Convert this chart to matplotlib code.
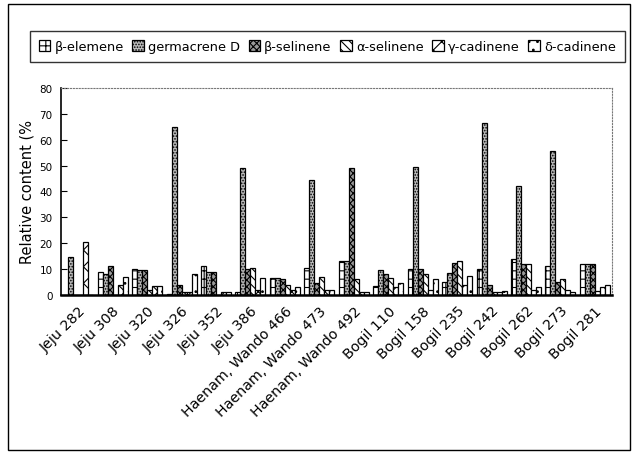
import numpy as np
import matplotlib
matplotlib.use("Agg")
import matplotlib.pyplot as plt
from matplotlib.patches import Rectangle

plt.rcParams['font.family'] = ['DejaVu Sans']
plt.rcParams['hatch.linewidth'] = 0.8

categories = ["Jeju 282", "Jeju 308", "Jeju 320", "Jeju 326", "Jeju 352", "Jeju 386",
              "Haenam, Wando 466", "Haenam, Wando 473", "Haenam, Wando 492",
              "Bogil 110", "Bogil 158", "Bogil 235", "Bogil 242", "Bogil 262",
              "Bogil 273", "Bogil 281"]
series_names = ["β-elemene", "germacrene D", "β-selinene", "α-selinene", "γ-cadinene", "δ-cadinene"]

beta_elemene = [0, 9, 10, 0.5, 11, 1, 6.5, 10.5, 13, 3.5, 10, 5, 10, 14, 11, 12]
germacrene_d = [14.5, 8, 9.5, 65, 9, 49, 6.5, 44.5, 13, 9.5, 49.5, 8.5, 66.5, 42, 55.5, 12]
beta_selinene = [0, 11, 9.7, 4, 9, 10, 6, 4.5, 49, 8, 10, 12.5, 4, 12, 5, 12]
alpha_selinene = [0, 0, 2, 1, 0, 10.5, 4, 7, 6, 6.5, 8, 13, 1, 12, 6, 1.5]
gamma_cadinene = [20.5, 4, 3.5, 1, 1, 2, 2, 2, 1, 3, 2, 4, 1, 2, 2, 3]
delta_cadinene = [0, 7, 3.5, 8, 1, 6.5, 3, 2, 1, 4.5, 6, 7.5, 1.5, 3, 1, 4]

values = [beta_elemene, germacrene_d, beta_selinene, alpha_selinene, gamma_cadinene, delta_cadinene]
hatches = ['++', '......', 'xxxxx', '\\\\\\\\', 'xx', '..']
facecolors = ['white', '#bdbdbd', '#9a9a9a', 'white', 'white', 'white']

fig = plt.figure(figsize=(6.33, 4.56), dpi=100)
ax = fig.add_axes([0.0964, 0.351, 0.8706, 0.454])

n = len(categories)
x = np.arange(n)
bw = 0.145
for i, (vals, h, fc, name) in enumerate(zip(values, hatches, facecolors, series_names)):
    ax.bar(x - 2.5 * bw + i * bw, vals, width=bw, facecolor=fc, edgecolor='black',
           hatch=h, linewidth=0.9, label=name)

ax.set_xlim(-0.5, n - 0.5)
ax.set_ylim(0, 80)
ax.set_yticks(np.arange(0, 81, 10))
ax.tick_params(axis='y', direction='in', length=4, labelsize=7.5, pad=6)
ax.set_xticks(x)
ax.set_xticklabels(categories, rotation=45, ha='right', rotation_mode='anchor', fontsize=10.3)
ax.tick_params(axis='x', length=0, pad=6)
ax.set_ylabel("Relative content (%", fontsize=10.5, labelpad=4)
ax.spines['left'].set_linewidth(1.2)
ax.spines['bottom'].set_linewidth(1.8)
for s in ['top', 'right']:
    ax.spines[s].set_linestyle(':')
    ax.spines[s].set_color('#777777')

leg = fig.legend(loc='lower left', bbox_to_anchor=(0.047, 0.862, 0.94, 0.077), mode='expand',
                 ncol=6, fontsize=9.3, frameon=True, fancybox=False, edgecolor='black',
                 handlelength=0.9, handleheight=0.9, handletextpad=0.3, columnspacing=0.5,
                 borderaxespad=0, borderpad=0.7)
leg.get_frame().set_linewidth(1.0)

fig.patches.append(Rectangle((0.013, 0.01), 0.982, 0.978, transform=fig.transFigure,
                             fill=False, edgecolor='black', linewidth=1.0))

fig.savefig("out.png", dpi=100)
